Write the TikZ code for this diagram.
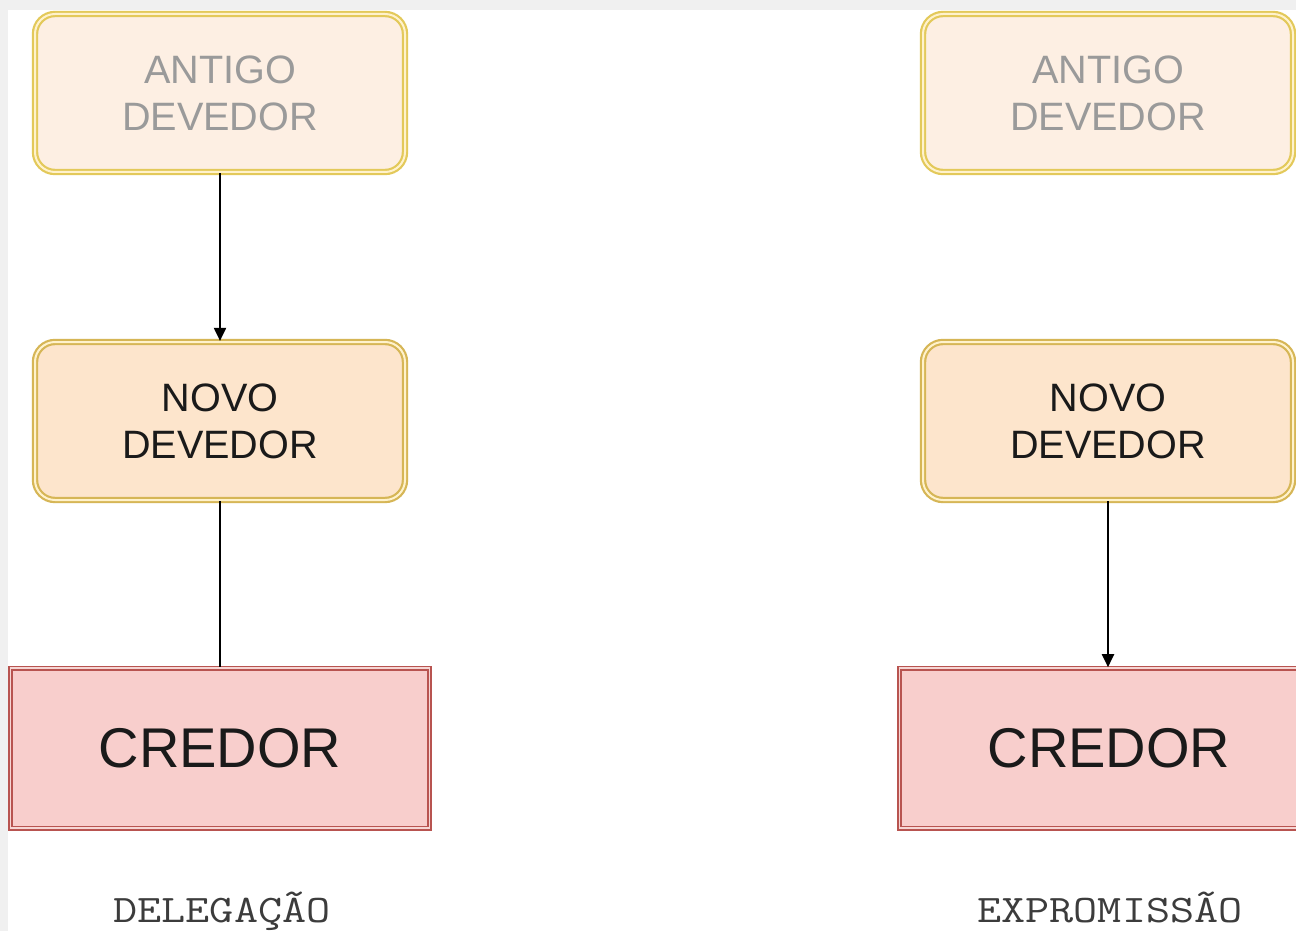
\documentclass[tikz,border=0pt]{standalone}
\usepackage{graphicx}
\usepackage{fontspec}
\setmainfont{Liberation Sans}
\usetikzlibrary{arrows.meta}
\definecolor{bggray}{HTML}{F0F0F0}
\definecolor{yborder}{HTML}{D6B656}
\definecolor{yborderlt}{HTML}{E3C95A}
\definecolor{ylight}{HTML}{FFF2CC}
\definecolor{oldfill}{HTML}{FDEFE3}
\definecolor{newfill}{HTML}{FDE5CC}
\definecolor{redfill}{HTML}{F8CECC}
\definecolor{redborder}{HTML}{B85450}
\definecolor{redlight}{HTML}{F6D6D4}
\definecolor{oldtext}{HTML}{9A9A9A}
\definecolor{darktext}{HTML}{1A1A1A}
\tikzset{
  oldbox/.style={rectangle, rounded corners=20pt, minimum width=370pt, minimum height=158pt,
    fill=oldfill, draw=yborderlt, double=ylight, double distance=2pt, line width=2.2pt,
    align=center, text=oldtext, font=\fontsize{39.6}{47}\selectfont, inner sep=0pt},
  newbox/.style={oldbox, fill=newfill, draw=yborder, text=darktext},
  credbox/.style={rectangle, minimum width=419pt, minimum height=160pt,
    fill=redfill, draw=redborder, double=redlight, double distance=1.8pt, line width=1.6pt,
    text=darktext, font=\fontsize{56}{60}\selectfont, inner sep=0pt},
  caption/.style={font=\ttfamily\fontsize{39}{42}\selectfont, text=darktext!85, inner sep=0pt, anchor=base},
  conn/.style={line width=2pt, draw=black},
  arr/.style={conn, -{Triangle[width=12pt,length=13pt]}}
}
\begin{document}
\begin{tikzpicture}[x=1pt,y=-1pt]
\useasboundingbox (0,0) rectangle (1296,931);
\clip (0,0) rectangle (1296,931);
\fill[bggray] (0,0) rectangle (1296,931);
\fill[white] (8,10) rectangle (1296,931);
% left
\node[oldbox] (a1) at (220,93) {ANTIGO\\DEVEDOR};
\node[newbox] (n1) at (220,421) {NOVO\\DEVEDOR};
\node[credbox] (c1) at (220,748) {CREDOR};
\node[caption] (l1) at (222,922) {\scalebox{1.2}[1]{DELEGAÇÃO}};
\draw[arr] (a1.south) -- (n1.north);
\draw[conn] (n1.south) -- (c1.north);
% right
\node[oldbox] (a2) at (1108,93) {ANTIGO\\DEVEDOR};
\node[newbox] (n2) at (1108,421) {NOVO\\DEVEDOR};
\node[credbox] (c2) at (1109,748) {CREDOR};
\node[caption] (l2) at (1110,922) {\scalebox{1.2}[1]{EXPROMISSÃO}};
\draw[arr] (n2.south) -- (c2.north -| n2.south);
\end{tikzpicture}
\end{document}
